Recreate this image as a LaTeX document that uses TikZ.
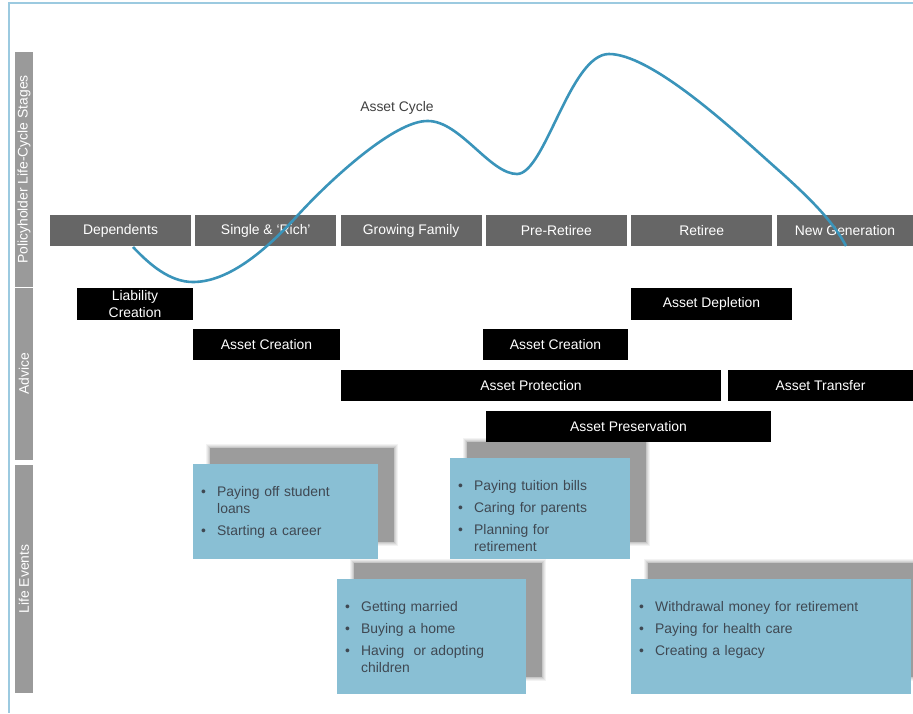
\documentclass[tikz,border=0pt]{standalone}
\usepackage{fontspec}
\setmainfont{Liberation Sans}
\usetikzlibrary{positioning,backgrounds}

\definecolor{stagegray}{HTML}{666666}
\definecolor{sidegray}{HTML}{9A9A9A}
\definecolor{eventblue}{HTML}{89BFD4}
\definecolor{eventtext}{HTML}{3F4852}
\definecolor{cycleblue}{HTML}{3A94BA}
\definecolor{framecol}{HTML}{9CCAE0}
\definecolor{shadowgray}{HTML}{9C9C9C}
\definecolor{labeltext}{HTML}{404040}

\newcommand{\lifesetup}{\fontsize{13.9}{16.5}\selectfont\setlength{\parskip}{5.5pt}}
\newcommand{\evitem}[1]{\par\hangindent=16pt\hangafter=1\noindent\makebox[16pt][l]{\textbullet}\strut#1\strut\par}
\newcommand{\evbreak}{\hfil\break}

\begin{document}
\begin{tikzpicture}[x=1pt,y=-1pt,
  every node/.style={font=\fontsize{13.9}{16.5}\selectfont},
  sidebar/.style={fill=sidegray,text=white,rotate=90,minimum height=18pt,inner sep=0pt},
  stage/.style={fill=stagegray,text=white,minimum width=141pt,minimum height=31pt,
                inner sep=0pt,outer sep=0pt},
  advice/.style={fill=black,text=white,minimum height=31pt,inner sep=0pt,align=center},
  lifebox/.style={fill=eventblue,anchor=north west,inner sep=0pt},
  lifetext/.style={text=eventtext,anchor=north west,inner sep=0pt,align=left,
                   execute at begin node=\lifesetup},
  cyclecurve/.style={cycleblue,line width=2.6pt}
]
  \useasboundingbox (0,0) rectangle (913,713);
  % Frame
  \draw[framecol,line width=1.5pt] (913,3) -| (9,713);
  % Side bars
  \node[sidebar,minimum width=235pt] (barstages) at (24,169.5) {Policyholder Life-Cycle Stages};
  \node[sidebar,minimum width=172pt] (baradvice) at (24,374) {Advice};
  \node[sidebar,minimum width=228pt] (barevents) at (24,579) {Life Events};
  % Stages
  \node[stage] (dep) at (120.5,230.5) {Dependents};
  \node[stage,right=4.3pt of dep] (single) {Single \& ‘Rich’};
  \node[stage,right=4.3pt of single] (growing) {Growing Family};
  \node[stage,right=4.3pt of growing] (preret) {Pre-Retiree};
  \node[stage,right=4.3pt of preret] (retiree) {Retiree};
  \node[stage,right=4.3pt of retiree,minimum width=137pt] (newgen) {New Generation};
  % Asset cycle
  \draw[cyclecurve] (133,247) .. controls (150,265) and (170,282) .. (193,282)
    .. controls (230,282) and (268,248) .. (298,215)
    .. controls (330,180) and (395,120) .. (428,121)
    .. controls (460,121) and (490,174) .. (517,174)
    .. controls (545,174) and (570,54) .. (609,54)
    .. controls (650,54) and (727,124) .. (767,160)
    .. controls (795,185) and (830,215) .. (846,246);
  \node[text=labeltext] (cyclelabel) at (397,108) {Asset Cycle};
  % Advice
  \node[advice,minimum width=116pt,minimum height=32pt] (liab) at (135,304) {Liability\\Creation};
  \node[advice,minimum width=147pt] (acreate) at (266.5,344.5) {Asset Creation};
  \node[advice,minimum width=145pt] (acreatetwo) at (555.5,344.5) {Asset Creation};
  \node[advice,minimum width=161pt,minimum height=32pt] (adeplete) at (711.5,304) {Asset Depletion};
  \node[advice,minimum width=380pt] (aprotect) at (531,385.5) {Asset Protection};
  \node[advice,minimum width=185pt] (atransfer) at (820.5,385.5) {Asset Transfer};
  \node[advice,minimum width=285pt] (apreserve) at (628.5,426.5) {Asset Preservation};
  % Life events
  \node[lifebox,minimum width=185pt,minimum height=95pt] (life1) at (193,464) {};
  \node[lifebox,minimum width=180pt,minimum height=101pt] (life2) at (450,458) {};
  \node[lifebox,minimum width=189pt,minimum height=115pt] (life3) at (337,579) {};
  \node[lifebox,minimum width=280pt,minimum height=115pt] (life4) at (631,579) {};
  \node[lifetext,text width=170pt] (life1txt) at ([shift={(8,10.5)}]life1.north west)
    {\evitem{Paying off student\evbreak loans}\evitem{Starting a career}};
  \node[lifetext,text width=165pt] (life2txt) at ([shift={(8,10.5)}]life2.north west)
    {\evitem{Paying tuition bills}\evitem{Caring for parents}\evitem{Planning for\evbreak retirement}};
  \node[lifetext,text width=175pt] (life3txt) at ([shift={(8,10.5)}]life3.north west)
    {\evitem{Getting married}\evitem{Buying a home}\evitem{Having\ \ or adopting\evbreak children}};
  \node[lifetext,text width=265pt] (life4txt) at ([shift={(8,10.5)}]life4.north west)
    {\evitem{Withdrawal money for retirement}\evitem{Paying for health care}\evitem{Creating a legacy}};
  % Shadows
  \begin{pgfonlayer}{background}
    \clip (0,0) rectangle (913,713);
    \foreach \ev in {life1,life2,life3,life4}{
      \foreach \g/\op in {4/0.12,3/0.15,2/0.2,1/0.3,0/1}
        \fill[shadowgray,opacity=\op] ([shift={(16.5-\g,-16.5-\g)}]\ev.north west)
          rectangle ([shift={(15.5+\g,-17.5+\g)}]\ev.south east);
    }
  \end{pgfonlayer}
\end{tikzpicture}
\end{document}
